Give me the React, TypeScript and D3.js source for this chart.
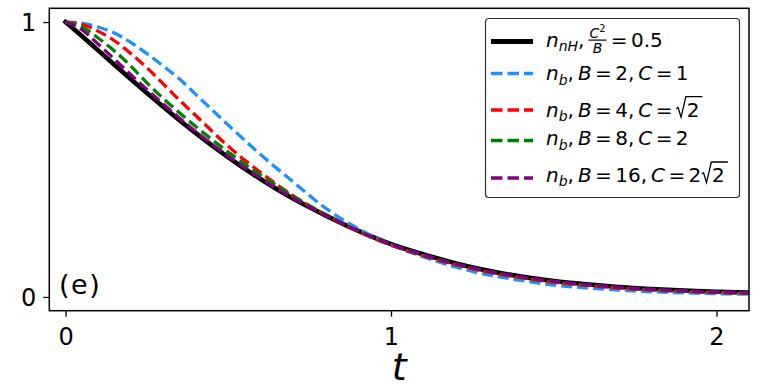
import React, { useRef, useEffect } from "react";
import * as d3 from "d3";

// time grid and curves
const T = [0, 0.05, 0.1, 0.15, 0.2, 0.25, 0.3, 0.35, 0.4, 0.5, 0.6, 0.7, 0.8, 0.9, 1.0, 1.1, 1.2, 1.3, 1.4, 1.5, 1.6, 1.7, 1.8, 1.9, 2.0, 2.1];
const nH = [1.0, 0.949, 0.897, 0.845, 0.793, 0.742, 0.692, 0.643, 0.596, 0.508, 0.428, 0.357, 0.296, 0.24, 0.192, 0.155, 0.122, 0.095, 0.074, 0.058, 0.046, 0.036, 0.029, 0.023, 0.019, 0.016];
const nbB2 = [1.0, 0.996, 0.982, 0.96, 0.926, 0.885, 0.84, 0.793, 0.737, 0.625, 0.517, 0.418, 0.322, 0.248, 0.19, 0.146, 0.108, 0.08, 0.06, 0.043, 0.033, 0.025, 0.019, 0.015, 0.012, 0.01];
const nbB4 = [1.0, 0.992, 0.967, 0.932, 0.886, 0.834, 0.775, 0.716, 0.66, 0.548, 0.452, 0.368, 0.298, 0.238, 0.188, 0.149, 0.116, 0.09, 0.069, 0.053, 0.042, 0.032, 0.025, 0.02, 0.016, 0.013];
const nbB8 = [1.0, 0.983, 0.942, 0.895, 0.84, 0.779, 0.722, 0.67, 0.62, 0.527, 0.443, 0.366, 0.299, 0.24, 0.19, 0.151, 0.118, 0.092, 0.071, 0.055, 0.043, 0.034, 0.026, 0.021, 0.017, 0.014];
const nbB16 = [1.0, 0.972, 0.92, 0.865, 0.809, 0.755, 0.702, 0.651, 0.602, 0.512, 0.431, 0.359, 0.297, 0.24, 0.191, 0.153, 0.12, 0.093, 0.073, 0.057, 0.045, 0.035, 0.028, 0.022, 0.018, 0.015];

const xTicks = [0, 1, 2];
const yTicks = [0, 1];

type Tok = { s?: string; it?: boolean; sub?: boolean; sup?: boolean; sp?: number; sqrt?: boolean; frac?: [Tok[], Tok[]] };

const EQ: Tok[] = [{ sp: 0.17 }, { s: "=" }, { sp: 0.17 }];
const nb: Tok[] = [{ s: "n", it: true }, { s: "b", it: true, sub: true }, { s: "," }, { sp: 0.2 }, { s: "B", it: true }, ...EQ];
const series = [
  { name: "nH", values: nH, color: "#000000", dashed: false,
    label: [{ s: "n", it: true }, { s: "nH", it: true, sub: true }, { s: "," }, { sp: 0.15 },
      { frac: [[{ s: "C", it: true }, { s: "2", sup: true }], [{ s: "B", it: true }]] }, ...EQ, { s: "0.5" }] as Tok[] },
  { name: "B2", values: nbB2, color: "#1e90ff", dashed: true,
    label: [...nb, { s: "2," }, { sp: 0.2 }, { s: "C", it: true }, ...EQ, { s: "1" }] as Tok[] },
  { name: "B4", values: nbB4, color: "#ff0000", dashed: true,
    label: [...nb, { s: "4," }, { sp: 0.2 }, { s: "C", it: true }, ...EQ, { s: "2", sqrt: true }] as Tok[] },
  { name: "B8", values: nbB8, color: "#008000", dashed: true,
    label: [...nb, { s: "8," }, { sp: 0.2 }, { s: "C", it: true }, ...EQ, { s: "2" }] as Tok[] },
  { name: "B16", values: nbB16, color: "#800080", dashed: true,
    label: [...nb, { s: "16," }, { sp: 0.2 }, { s: "C", it: true }, ...EQ, { s: "2" }, { s: "2", sqrt: true }] as Tok[] },
];

const FONT = "DejaVu Sans, Liberation Sans, sans-serif";

// tiny mathtext-like layout: italics, sub/superscripts, \frac and \sqrt
function drawMath(g: any, toks: Tok[], x: number, base: number, fs: number): number {
  let cx = x;
  for (const tk of toks) {
    if (tk.sp) { cx += tk.sp * fs; continue; }
    if (tk.frac) {
      const gn = g.append("g");
      const gd = g.append("g");
      const wn = drawMath(gn, tk.frac[0], 0, 0, fs * 0.7);
      const wd = drawMath(gd, tk.frac[1], 0, 0, fs * 0.7);
      const w = Math.max(wn, wd) + 0.2 * fs;
      const axis = base - 0.33 * fs;
      gn.attr("transform", `translate(${cx + (w - wn) / 2},${axis - 0.12 * fs})`);
      gd.attr("transform", `translate(${cx + (w - wd) / 2},${axis + 0.12 * fs + 0.51 * fs})`);
      g.append("line").attr("x1", cx + 0.05 * fs).attr("x2", cx + w - 0.05 * fs)
        .attr("y1", axis).attr("y2", axis).attr("stroke", "#000").attr("stroke-width", 0.06 * fs);
      cx += w;
      continue;
    }
    if (tk.sqrt) {
      const sw = 0.5 * fs;
      const tx = cx + sw + 0.04 * fs;
      const t = g.append("text").attr("x", tx).attr("y", base).attr("font-size", fs).text(tk.s);
      const wr = t.node().getComputedTextLength();
      const top = base - 1.0 * fs;
      const end = tx + wr + 0.15 * fs;
      g.append("path")
        .attr("d", `M${cx + 0.02 * fs},${base - 0.4 * fs}L${cx + 0.11 * fs},${base - 0.46 * fs}L${cx + 0.26 * fs},${base + 0.03 * fs}L${cx + sw},${top}L${end},${top}`)
        .attr("fill", "none").attr("stroke", "#000").attr("stroke-width", 0.065 * fs);
      cx = end + 0.05 * fs;
      continue;
    }
    let size = fs, dy = 0;
    if (tk.sub) { size = 0.7 * fs; dy = 0.22 * fs; }
    if (tk.sup) { size = 0.7 * fs; dy = -0.4 * fs; }
    const t = g.append("text").attr("x", cx).attr("y", base + dy).attr("font-size", size)
      .attr("font-style", tk.it ? "italic" : "normal").text(tk.s);
    cx += t.node().getComputedTextLength();
  }
  return cx - x;
}

export default function App() {
  const ref = useRef<SVGSVGElement>(null);
  const width = 777, height = 388;
  const margin = { top: 8.3, right: 28, bottom: 77.3, left: 49.3 };

  useEffect(() => {
    if (!ref.current) return;
    const svg = d3.select(ref.current);
    svg.selectAll("*").remove();
    svg.attr("font-family", FONT);

    const x = d3.scaleLinear().domain([-0.05, 2.1]).range([margin.left, width - margin.right]);
    const y = d3.scaleLinear().domain([-0.05, 1.05]).range([height - margin.bottom, margin.top]);

    svg.append("defs").append("clipPath").attr("id", "plot-clip")
      .append("rect").attr("x", margin.left).attr("y", margin.top)
      .attr("width", width - margin.left - margin.right)
      .attr("height", height - margin.top - margin.bottom);

    const line = d3.line<number>()
      .x((_, i) => x(T[i]))
      .y(d => y(d))
      .curve(d3.curveMonotoneX);

    const plot = svg.append("g").attr("clip-path", "url(#plot-clip)");
    series.forEach(s => {
      plot.append("path")
        .datum(s.values)
        .attr("fill", "none")
        .attr("stroke", s.color)
        .attr("stroke-width", s.dashed ? 3.3 : 4.6)
        .attr("stroke-dasharray", s.dashed ? "11,5" : null)
        .attr("stroke-linecap", s.dashed ? "butt" : "square")
        .attr("d", line);
    });

    // axes
    const xAxis = svg.append("g")
      .attr("transform", `translate(0,${height - margin.bottom})`)
      .call(d3.axisBottom(x).tickValues(xTicks).tickSize(6).tickPadding(11).tickFormat(d3.format("d")));
    const yAxis = svg.append("g")
      .attr("transform", `translate(${margin.left},0)`)
      .call(d3.axisLeft(y).tickValues(yTicks).tickSize(6).tickPadding(7).tickFormat(d3.format("d")));
    [xAxis, yAxis].forEach(a => {
      a.select(".domain").remove();
      a.selectAll(".tick line").attr("stroke", "#000").attr("stroke-width", 1.3);
      a.selectAll("text").attr("font-family", FONT).attr("font-size", 24).attr("fill", "#000");
    });
    yAxis.selectAll("text").attr("dy", "0.36em");

    svg.append("rect")
      .attr("x", margin.left).attr("y", margin.top)
      .attr("width", width - margin.left - margin.right)
      .attr("height", height - margin.top - margin.bottom)
      .attr("fill", "none").attr("stroke", "#000").attr("stroke-width", 1.5);

    svg.append("text")
      .attr("x", (margin.left + width - margin.right) / 2)
      .attr("y", 380)
      .attr("text-anchor", "middle")
      .attr("font-size", 38)
      .attr("font-style", "italic")
      .text("t");

    svg.append("text")
      .attr("x", 59).attr("y", 293.5)
      .attr("font-size", 27)
      .attr("letter-spacing", 1.5)
      .text("(e)");

    // legend
    const leg = svg.append("g");
    leg.append("rect")
      .attr("x", 485.5).attr("y", 18.5).attr("width", 254).attr("height", 179).attr("rx", 3)
      .attr("fill", "#fff").attr("stroke", "#333").attr("stroke-width", 1.2);
    const baselines = [46.7, 80.3, 116.7, 145.3, 182];
    const handleY = [41.5, 73.5, 110, 140.5, 178];
    series.forEach((s, i) => {
      leg.append("line")
        .attr("x1", 491).attr("x2", 533)
        .attr("y1", handleY[i]).attr("y2", handleY[i])
        .attr("stroke", s.color)
        .attr("stroke-width", s.dashed ? 3.3 : 5)
        .attr("stroke-dasharray", s.dashed ? "11.5,5" : null);
      drawMath(leg.append("g").attr("fill", "#000"), s.label, 546, baselines[i], 20);
    });
  }, []);

  return (
    <svg ref={ref} width={width} height={height}
      style={{ position: "absolute", left: 0, top: 0, background: "#fff" }} />
  );
}
